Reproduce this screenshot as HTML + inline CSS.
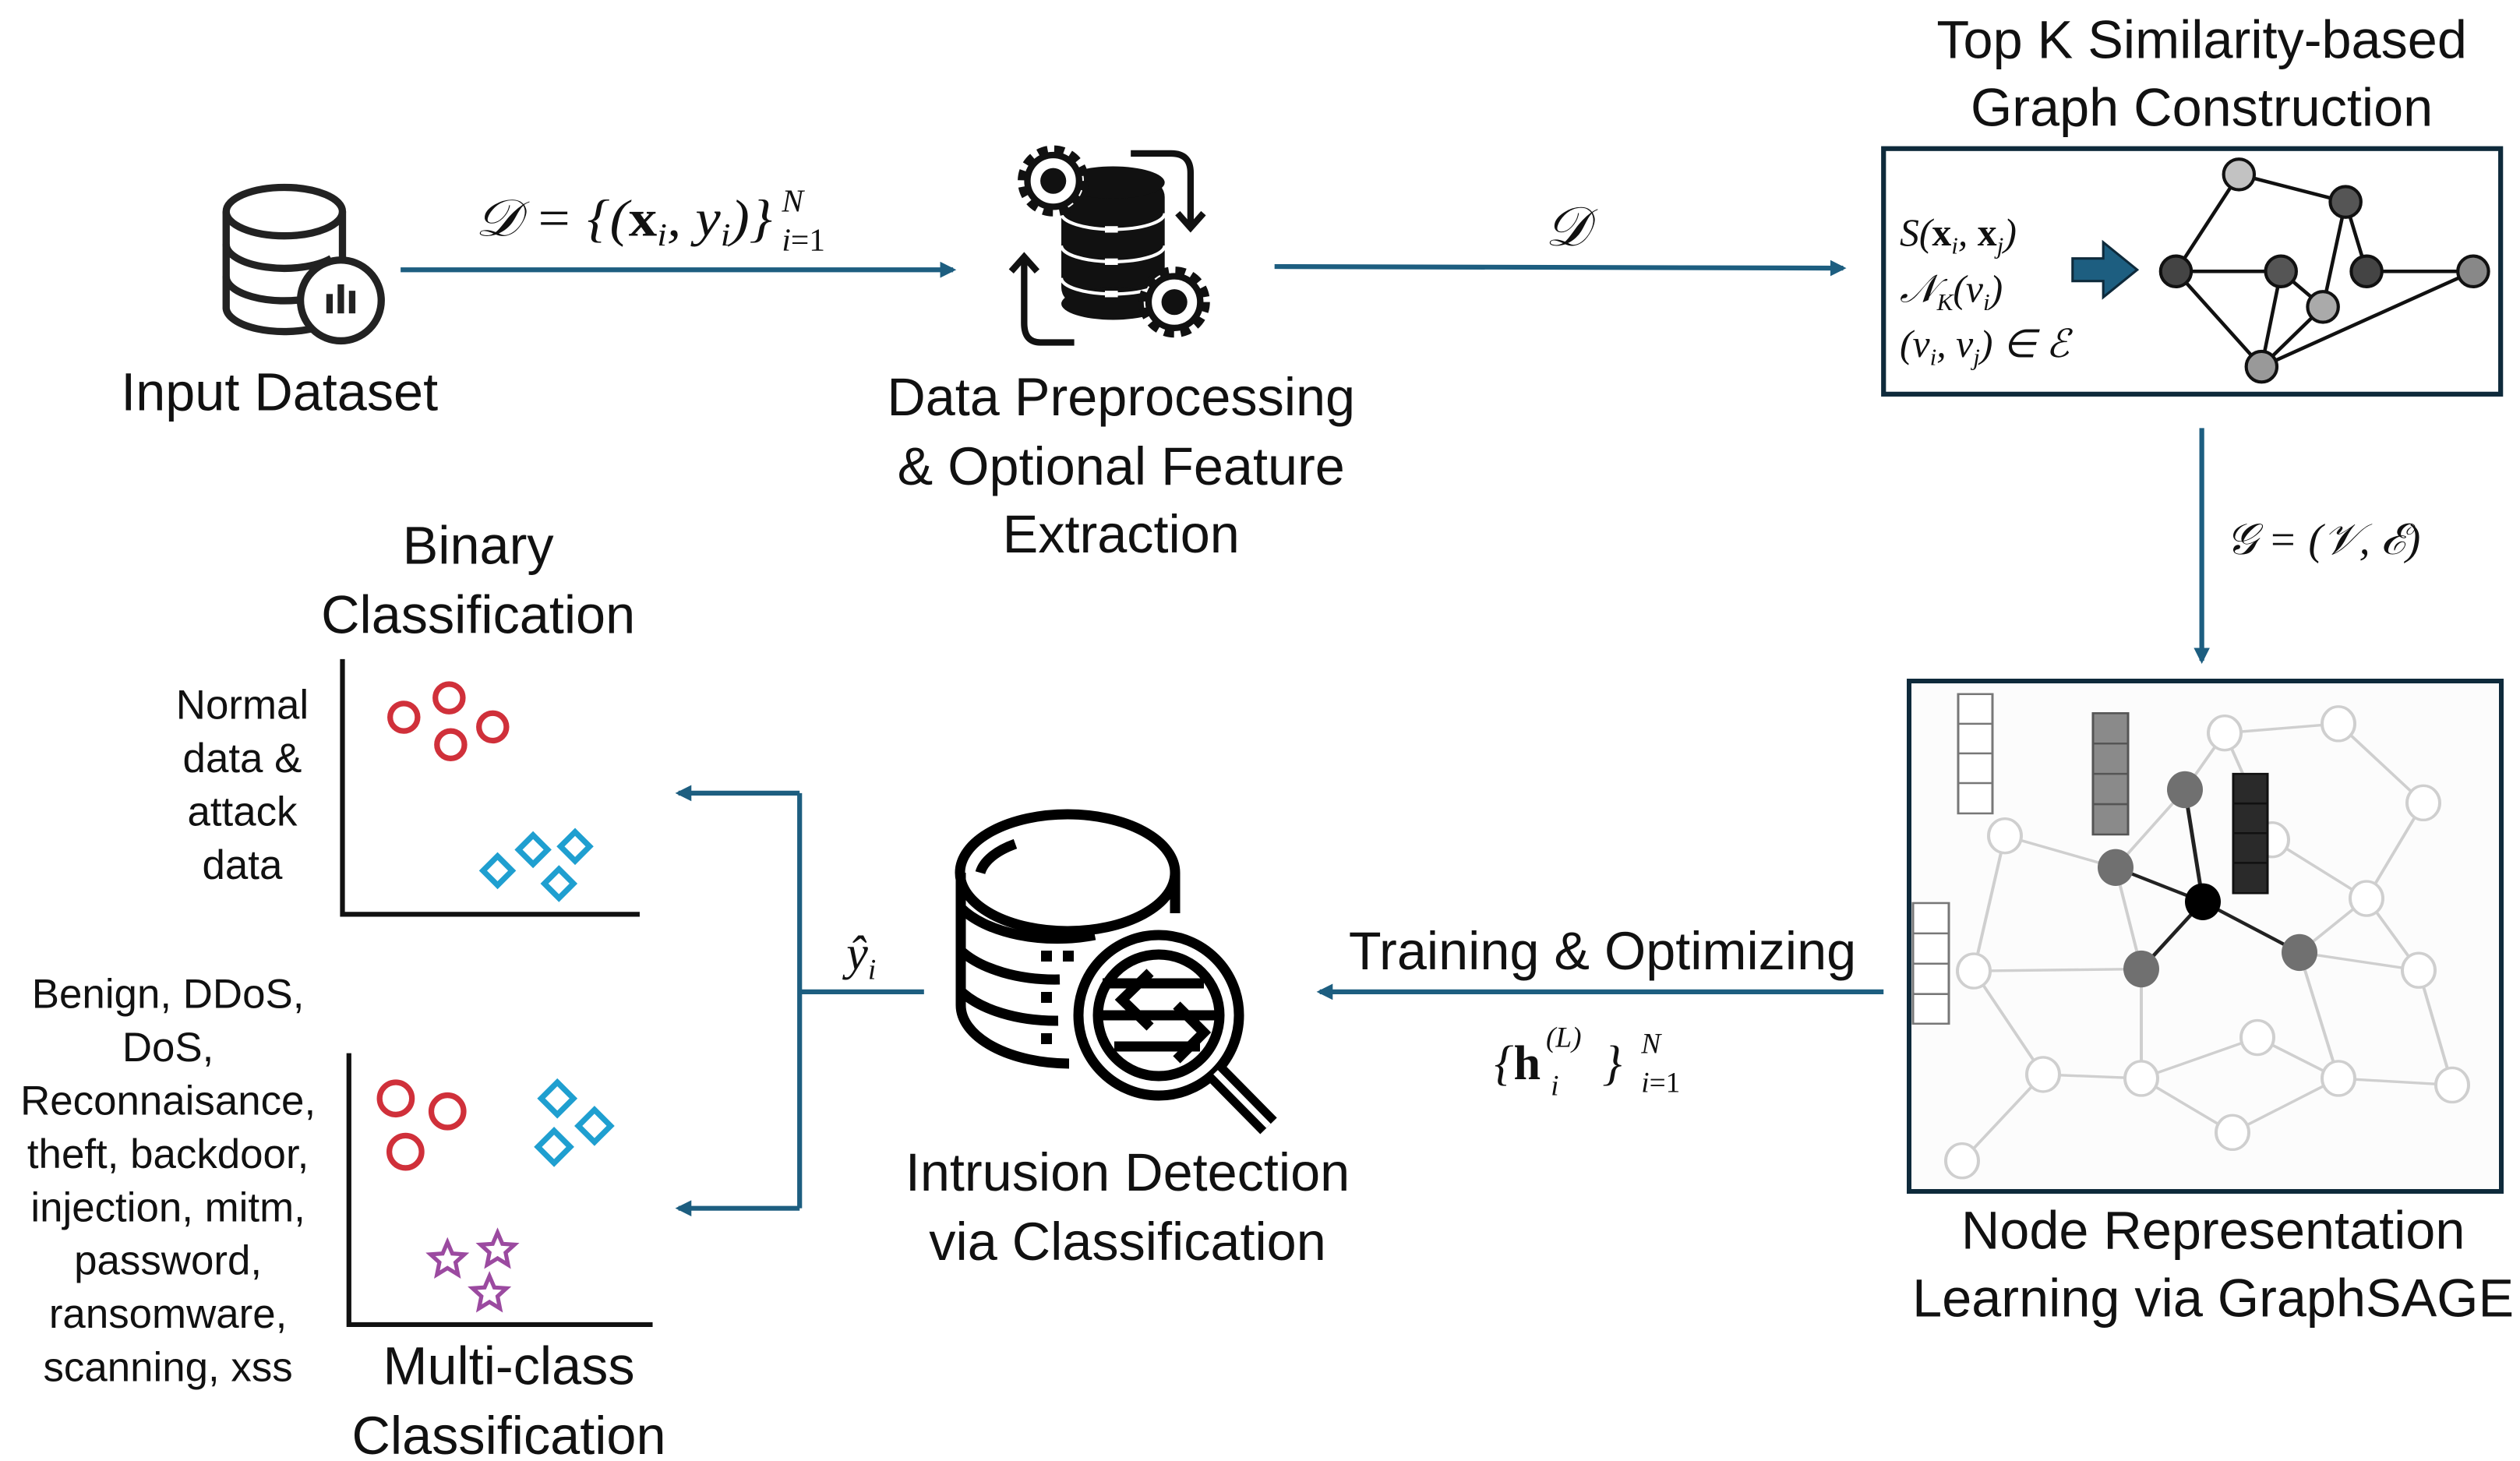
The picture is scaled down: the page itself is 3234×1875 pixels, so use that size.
<!DOCTYPE html>
<html><head><meta charset="utf-8"><style>
html,body{margin:0;padding:0;background:#fff;}
svg{display:block}
text{font-family:"Liberation Sans",sans-serif;fill:#111}
.m{font-family:"Liberation Serif",serif;font-style:italic}
</style></head><body>
<svg width="3234" height="1875" viewBox="0 0 3234 1875" xmlns="http://www.w3.org/2000/svg">
<defs>
<marker id="ah" markerWidth="10" markerHeight="10" refX="8" refY="5" orient="auto" markerUnits="userSpaceOnUse" viewBox="0 0 10 10">
<path d="M0,0 L10,5 L0,10 Z" fill="#1d5e80"/></marker>
</defs>
<rect x="2450" y="874" width="760" height="655" fill="#fcfcfc" stroke="#0e2a3b" stroke-width="6"/>
<g transform="translate(0,133.6) scale(1,0.846)">
<g stroke="#cfcfcf" stroke-width="4" fill="none">
<line x1="2855" y1="954" x2="3001" y2="940"/><line x1="2855" y1="954" x2="2804" y2="1040"/><line x1="2855" y1="954" x2="2916" y2="1116"/>
<line x1="3001" y1="940" x2="3110" y2="1060"/><line x1="3110" y1="1060" x2="3037" y2="1205"/><line x1="2916" y1="1116" x2="3037" y2="1205"/>
<line x1="2573" y1="1110" x2="2715" y2="1158"/><line x1="2573" y1="1110" x2="2533" y2="1315"/><line x1="2715" y1="1158" x2="2804" y2="1040"/>
<line x1="2715" y1="1158" x2="2748" y2="1312"/><line x1="2533" y1="1315" x2="2748" y2="1312"/><line x1="2533" y1="1315" x2="2622" y2="1472"/>
<line x1="2622" y1="1472" x2="2748" y2="1478"/><line x1="2622" y1="1472" x2="2518" y2="1603"/><line x1="2748" y1="1478" x2="2897" y2="1416"/>
<line x1="2748" y1="1478" x2="2865" y2="1560"/><line x1="2897" y1="1416" x2="3001" y2="1478"/><line x1="2865" y1="1560" x2="3001" y2="1478"/>
<line x1="3001" y1="1478" x2="3147" y2="1488"/><line x1="3037" y1="1205" x2="2951" y2="1287"/><line x1="3037" y1="1205" x2="3104" y2="1314"/>
<line x1="2951" y1="1287" x2="3104" y2="1314"/><line x1="2951" y1="1287" x2="3001" y2="1478"/><line x1="3104" y1="1314" x2="3147" y2="1488"/>
<line x1="2748" y1="1312" x2="2748" y2="1478"/>
</g>
<g fill="#fff" stroke="#cfcfcf" stroke-width="4">
<ellipse cx="2855" cy="954" rx="21" ry="26"/><ellipse cx="3001" cy="940" rx="21" ry="26"/><ellipse cx="3110" cy="1060" rx="21" ry="26"/>
<ellipse cx="2573" cy="1110" rx="21" ry="26"/><ellipse cx="2916" cy="1116" rx="21" ry="26"/><ellipse cx="3037" cy="1205" rx="21" ry="26"/>
<ellipse cx="2533" cy="1315" rx="21" ry="26"/><ellipse cx="3104" cy="1314" rx="21" ry="26"/><ellipse cx="2897" cy="1416" rx="21" ry="26"/>
<ellipse cx="2622" cy="1472" rx="21" ry="26"/><ellipse cx="2748" cy="1478" rx="21" ry="26"/><ellipse cx="3001" cy="1478" rx="21" ry="26"/>
<ellipse cx="3147" cy="1488" rx="21" ry="26"/><ellipse cx="2865" cy="1560" rx="21" ry="26"/><ellipse cx="2518" cy="1603" rx="21" ry="26"/>
</g>
<g stroke="#222" stroke-width="5">
<line x1="2827" y1="1210" x2="2804" y2="1040"/><line x1="2827" y1="1210" x2="2715" y2="1158"/>
<line x1="2827" y1="1210" x2="2748" y2="1312"/><line x1="2827" y1="1210" x2="2951" y2="1287"/>
</g>
<g fill="#707070"><ellipse cx="2804" cy="1040" rx="23" ry="28"/><ellipse cx="2715" cy="1158" rx="23" ry="28"/><ellipse cx="2748" cy="1312" rx="23" ry="28"/><ellipse cx="2951" cy="1287" rx="23" ry="28"/></g>
<ellipse cx="2827" cy="1210" rx="23" ry="28" fill="#000"/>
<g stroke="#777" stroke-width="3" fill="#fff">
<rect x="2513" y="895" width="44" height="181"/><line x1="2513" y1="940" x2="2557" y2="940"/><line x1="2513" y1="985" x2="2557" y2="985"/><line x1="2513" y1="1030" x2="2557" y2="1030"/>
<rect x="2455" y="1212" width="46" height="183"/><line x1="2455" y1="1258" x2="2501" y2="1258"/><line x1="2455" y1="1304" x2="2501" y2="1304"/><line x1="2455" y1="1350" x2="2501" y2="1350"/>
</g>
<g stroke="#555" stroke-width="3" fill="#8a8a8a">
<rect x="2686" y="924" width="45" height="184"/><line x1="2686" y1="970" x2="2731" y2="970"/><line x1="2686" y1="1016" x2="2731" y2="1016"/><line x1="2686" y1="1062" x2="2731" y2="1062"/>
</g>
<g stroke="#111" stroke-width="3" fill="#2a2a2a">
<rect x="2866" y="1016" width="44" height="181"/><line x1="2866" y1="1061" x2="2910" y2="1061"/><line x1="2866" y1="1106" x2="2910" y2="1106"/><line x1="2866" y1="1151" x2="2910" y2="1151"/>
</g>
</g>

<g fill="none" stroke="#000" stroke-width="13">
<path d="M1233,1120 L1233,1290 A140,75 0 0 0 1372,1365"/>
<ellipse cx="1370" cy="1120" rx="138" ry="75"/>
<path d="M1508,1120 L1508,1172"/>
<path d="M1233,1165 A140,75 0 0 0 1405,1200"/>
<path d="M1233,1220 A140,75 0 0 0 1360,1257"/>
<path d="M1233,1272 A140,75 0 0 0 1358,1310"/>
<path d="M1258,1120 A112,55 0 0 1 1303,1083" />
<circle cx="1487" cy="1303" r="103"/>
<circle cx="1487" cy="1303" r="78"/>
<line x1="1560" y1="1376" x2="1628" y2="1445" stroke-width="30"/>
<line x1="1415" y1="1262" x2="1545" y2="1262"/><line x1="1415" y1="1303" x2="1560" y2="1303"/><line x1="1430" y1="1343" x2="1540" y2="1343"/>
<polyline points="1476,1248 1440,1283 1476,1318"/><polyline points="1510,1290 1545,1325 1510,1360"/>
</g>
<line x1="1560" y1="1376" x2="1628" y2="1445" stroke="#fff" stroke-width="8"/>
<g fill="#000"><rect x="1336" y="1220" width="14" height="14"/><rect x="1364" y="1220" width="14" height="14"/><rect x="1336" y="1273" width="14" height="14"/><rect x="1336" y="1326" width="14" height="14"/></g>

<g transform="scale(2.0731)">
<g fill="none" stroke="#222" stroke-width="4.5">
<ellipse cx="176" cy="131" rx="36" ry="15"/>
<path d="M140,131 V191 A36,15 0 0 0 195,203"/>
<path d="M212,131 V162"/>
<path d="M140,151 A36,15 0 0 0 205,160"/>
<path d="M140,171 A36,15 0 0 0 190,185"/>
<circle cx="211" cy="186" r="25" fill="#fff"/>
</g>
<g fill="#222"><rect x="202" y="182" width="4" height="12"/><rect x="209" y="176" width="4" height="18"/><rect x="216" y="180" width="4" height="14"/></g>
<text x="173" y="254" font-size="33" text-anchor="middle">Input Dataset</text>

<g stroke="#1d5e80" stroke-width="3" fill="none">
<line x1="248" y1="167" x2="590" y2="167" marker-end="url(#ah)"/>
<line x1="789" y1="165" x2="1141" y2="166" marker-end="url(#ah)"/>
<line x1="1363" y1="265" x2="1363" y2="409" marker-end="url(#ah)"/>
<line x1="1166" y1="614" x2="817" y2="614" marker-end="url(#ah)"/>
<line x1="572" y1="614" x2="495" y2="614"/>
<polyline points="495,491 495,748"/>
<line x1="495" y1="491" x2="420" y2="491" marker-end="url(#ah)"/>
<line x1="495" y1="748" x2="420" y2="748" marker-end="url(#ah)"/>
</g>
<text x="294" y="146" font-size="32" class="m" textLength="184" lengthAdjust="spacingAndGlyphs">𝒟 = {(<tspan font-weight="bold" font-style="normal">x</tspan><tspan font-size="20" dy="6">i</tspan><tspan dy="-6">, y</tspan><tspan font-size="20" dy="6">i</tspan><tspan dy="-6">)}</tspan></text>
<text x="484" y="131" font-size="20" class="m">N</text><text x="484" y="155" font-size="20" class="m">i<tspan font-style="normal">=1</tspan></text>
<text x="970" y="152" font-size="34" class="m" text-anchor="middle">𝒟</text>

<g fill="#111">
<rect x="657" y="112" width="64" height="76" rx="10"/>
<ellipse cx="689" cy="113" rx="32" ry="10"/>
<ellipse cx="689" cy="188" rx="32" ry="10"/>
</g>
<g stroke="#fff" stroke-width="2" fill="none"><path d="M657,132 A32,10 0 0 0 721,132"/><path d="M657,152 A32,10 0 0 0 721,152"/><path d="M657,172 A32,10 0 0 0 721,172"/></g>
<g fill="#fff"><rect x="684" y="140" width="8" height="4"/><rect x="684" y="160" width="8" height="4"/><rect x="684" y="180" width="8" height="4"/></g>
<g>
<circle cx="652" cy="112" r="19" fill="#fff" stroke="#111" stroke-width="6" stroke-dasharray="6 4"/>
<circle cx="652" cy="112" r="16" fill="#fff" stroke="#111" stroke-width="4"/>
<circle cx="652" cy="112" r="8" fill="#111"/>
<circle cx="727" cy="187" r="19" fill="#fff" stroke="#111" stroke-width="6" stroke-dasharray="6 4"/>
<circle cx="727" cy="187" r="16" fill="#fff" stroke="#111" stroke-width="4"/>
<circle cx="727" cy="187" r="8" fill="#111"/>
</g>
<g stroke="#111" stroke-width="4" fill="none">
<path d="M700,95 H725 Q737,95 737,107 V140"/><polyline points="729,132 737,141 745,132"/>
<path d="M665,212 H644 Q634,212 634,200 V160"/><polyline points="626,168 634,159 642,168"/>
</g>
<text x="694" y="257" font-size="33" text-anchor="middle">Data Preprocessing</text>
<text x="694" y="300" font-size="33" text-anchor="middle">&amp; Optional Feature</text>
<text x="694" y="342" font-size="33" text-anchor="middle">Extraction</text>

<text x="1363" y="36" font-size="33" text-anchor="middle">Top K Similarity-based</text>
<text x="1363" y="78" font-size="33" text-anchor="middle">Graph Construction</text>
<rect x="1166" y="92" width="382" height="152" fill="#fff" stroke="#0e2a3b" stroke-width="3"/>
<text x="1176" y="152" font-size="24" class="m">S(<tspan font-weight="bold" font-style="normal">x</tspan><tspan font-size="15" dy="5">i</tspan><tspan dy="-5">, </tspan><tspan font-weight="bold" font-style="normal">x</tspan><tspan font-size="15" dy="5">j</tspan><tspan dy="-5">)</tspan></text>
<text x="1176" y="187" font-size="24" class="m">𝒩<tspan font-size="15" dy="5">K</tspan><tspan dy="-5">(v</tspan><tspan font-size="15" dy="5">i</tspan><tspan dy="-5">)</tspan></text>
<text x="1176" y="221" font-size="24" class="m">(v<tspan font-size="15" dy="5">i</tspan><tspan dy="-5">, v</tspan><tspan font-size="15" dy="5">j</tspan><tspan dy="-5">) ∈ ℰ</tspan></text>
<path d="M1283,160 H1302 V150 L1323,167 L1302,184 V174 H1283 Z" fill="#1d5e80" stroke="#0e2a3b" stroke-width="1.5"/>
<g stroke="#111" stroke-width="2.2">
<line x1="1386" y1="108" x2="1452" y2="125"/><line x1="1386" y1="108" x2="1347" y2="168"/><line x1="1452" y1="125" x2="1465" y2="168"/>
<line x1="1452" y1="125" x2="1438" y2="190"/><line x1="1347" y1="168" x2="1412" y2="168"/><line x1="1465" y1="168" x2="1531" y2="168"/>
<line x1="1347" y1="168" x2="1400" y2="227"/><line x1="1412" y1="168" x2="1400" y2="227"/><line x1="1412" y1="168" x2="1438" y2="190"/>
<line x1="1438" y1="190" x2="1400" y2="227"/><line x1="1531" y1="168" x2="1400" y2="227"/>
</g>
<g stroke="#111" stroke-width="2">
<circle cx="1386" cy="108" r="9.5" fill="#c2c2c2"/><circle cx="1452" cy="125" r="9.5" fill="#555"/><circle cx="1347" cy="168" r="9.5" fill="#444"/>
<circle cx="1412" cy="168" r="9.5" fill="#555"/><circle cx="1465" cy="168" r="9.5" fill="#444"/><circle cx="1531" cy="168" r="9.5" fill="#888"/>
<circle cx="1438" cy="190" r="9.5" fill="#aaa"/><circle cx="1400" cy="227" r="9.5" fill="#999"/>
</g>
<text x="1378" y="343" font-size="27" class="m">𝒢 = (𝒱, ℰ)</text>

<text x="1370" y="773" font-size="33" text-anchor="middle">Node Representation</text>
<text x="1370" y="815" font-size="33" text-anchor="middle">Learning via GraphSAGE</text>
<text x="992" y="600" font-size="33" text-anchor="middle">Training &amp; Optimizing</text>
<text x="925" y="668" font-size="30" class="m">{<tspan font-weight="bold" font-style="normal">h</tspan></text>
<text x="960" y="678" font-size="18" class="m">i</text><text x="957" y="648" font-size="18" class="m">(L)</text>
<text x="992" y="668" font-size="30" class="m">}</text>
<text x="1016" y="652" font-size="18" class="m">N</text><text x="1016" y="676" font-size="18" class="m">i<tspan font-style="normal">=1</tspan></text>

<text x="698" y="737" font-size="33" text-anchor="middle">Intrusion Detection</text>
<text x="698" y="780" font-size="33" text-anchor="middle">via Classification</text>
<text x="524" y="600" font-size="30" class="m">ŷ<tspan font-size="18" dy="6">i</tspan></text>

<text x="296" y="349" font-size="33" text-anchor="middle">Binary</text>
<text x="296" y="392" font-size="33" text-anchor="middle">Classification</text>
<polyline points="212,408 212,566 396,566" fill="none" stroke="#111" stroke-width="3"/>
<g font-size="25.5" text-anchor="middle"><text x="150" y="445">Normal</text><text x="150" y="478">data &amp;</text><text x="150" y="511">attack</text><text x="150" y="544">data</text></g>
<g fill="none" stroke="#d0303a" stroke-width="3.5"><circle cx="250" cy="444" r="8.5"/><circle cx="278" cy="432" r="8.5"/><circle cx="305" cy="450" r="8.5"/><circle cx="279" cy="461" r="8.5"/></g>
<g fill="none" stroke="#1f9fd0" stroke-width="3.5">
<path d="M308,530 l9,9 l-9,9 l-9,-9z"/><path d="M330,517 l9,9 l-9,9 l-9,-9z"/><path d="M356,515 l9,9 l-9,9 l-9,-9z"/><path d="M346,538 l9,9 l-9,9 l-9,-9z"/>
</g>

<polyline points="216,652 216,820 404,820" fill="none" stroke="#111" stroke-width="3"/>
<g font-size="25.5" text-anchor="middle">
<text x="104" y="624">Benign, DDoS,</text><text x="104" y="657">DoS,</text><text x="104" y="690">Reconnaisance,</text><text x="104" y="723">theft, backdoor,</text>
<text x="104" y="756">injection, mitm,</text><text x="104" y="789">password,</text><text x="104" y="822">ransomware,</text><text x="104" y="855">scanning, xss</text>
</g>
<g fill="none" stroke="#d0303a" stroke-width="3.5"><circle cx="245" cy="680" r="10"/><circle cx="277" cy="688" r="10"/><circle cx="251" cy="713" r="10"/></g>
<g fill="none" stroke="#1f9fd0" stroke-width="3.5">
<path d="M345,670 l10,10 l-10,10 l-10,-10z"/><path d="M368,687 l10,10 l-10,10 l-10,-10z"/><path d="M343,700 l10,10 l-10,10 l-10,-10z"/>
</g>
<g fill="none" stroke="#9b4aa0" stroke-width="2.5">
<path transform="translate(277,780)" d="M0,-11 L3,-4 L10.5,-3.5 L5,1.5 L6.5,9 L0,5 L-6.5,9 L-5,1.5 L-10.5,-3.5 L-3,-4Z"/>
<path transform="translate(308,774)" d="M0,-11 L3,-4 L10.5,-3.5 L5,1.5 L6.5,9 L0,5 L-6.5,9 L-5,1.5 L-10.5,-3.5 L-3,-4Z"/>
<path transform="translate(303,801)" d="M0,-11 L3,-4 L10.5,-3.5 L5,1.5 L6.5,9 L0,5 L-6.5,9 L-5,1.5 L-10.5,-3.5 L-3,-4Z"/>
</g>
<text x="315" y="857" font-size="33" text-anchor="middle">Multi-class</text>
<text x="315" y="900" font-size="33" text-anchor="middle">Classification</text>
</g>
</svg>
</body></html>
